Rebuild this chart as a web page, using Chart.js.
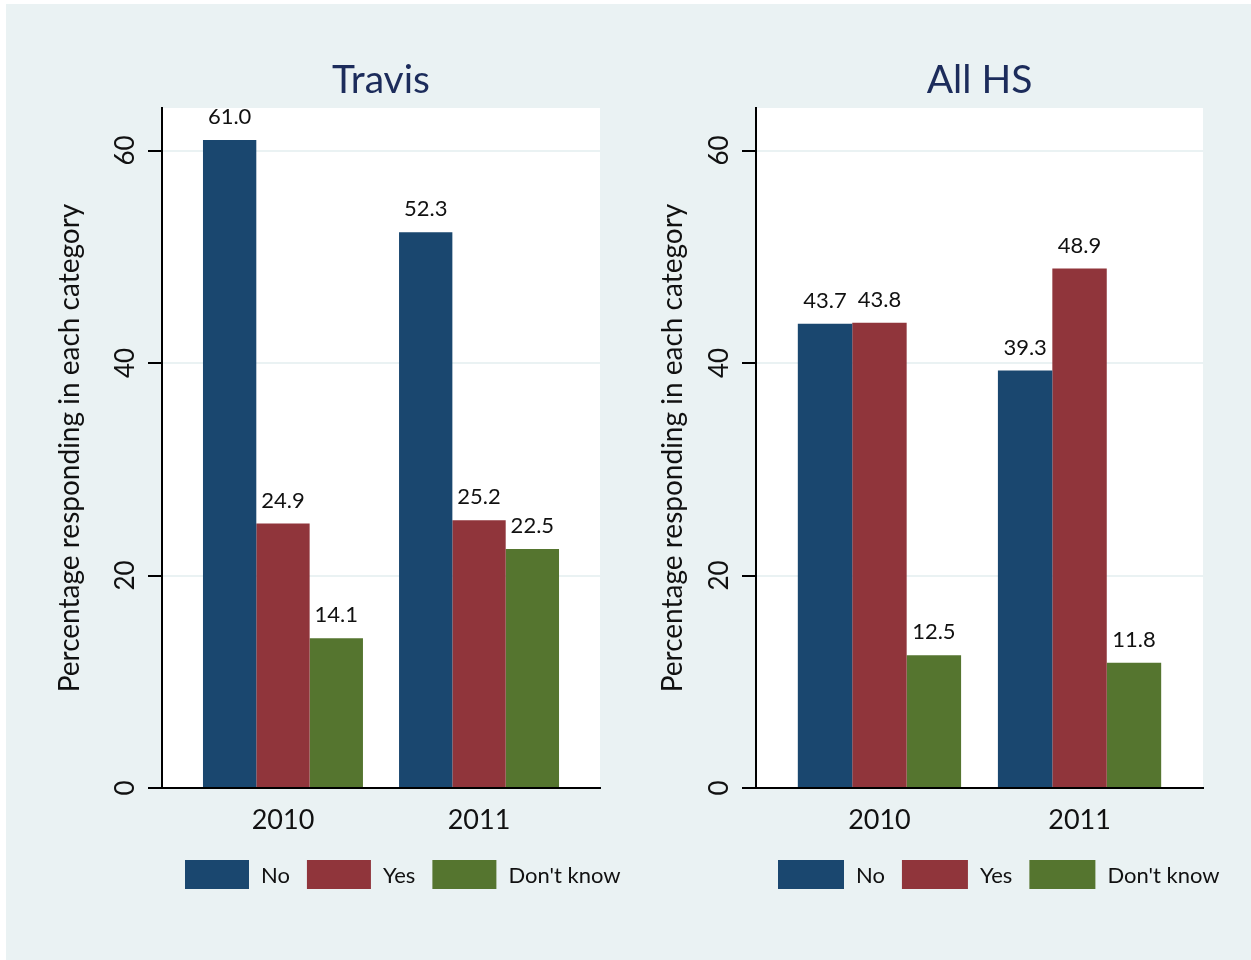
<!DOCTYPE html>
<html>
<head>
<meta charset="utf-8">
<title>Travis / All HS</title>
<script src="https://cdn.jsdelivr.net/npm/chart.js@4.4.1/dist/chart.umd.min.js"></script>
<style>
  html, body { margin: 0; padding: 0; background: #ffffff; }
  #frame { position: absolute; left: 6px; top: 4px; width: 1245px; height: 956px; background: #eaf2f3; }
  #frame canvas { position: absolute; top: 0; }
  #travis { left: 0; }
  #allhs { left: 620px; }
</style>
</head>
<body>
<div id="frame">
  <canvas id="travis" width="620" height="956"></canvas>
  <canvas id="allhs" width="625" height="956"></canvas>
</div>
<script>
// data
const years = ["2010", "2011"];
const seriesNames = ["No", "Yes", "Don't know"];
const seriesColors = ["#1a476f", "#90353b", "#55752f"];

const travisNo = [61.0, 52.3];
const travisYes = [24.9, 25.2];
const travisDontKnow = [14.1, 22.5];

const allHsNo = [43.7, 39.3];
const allHsYes = [43.8, 48.9];
const allHsDontKnow = [12.5, 11.8];

const yTicks = [0, 20, 40, 60];
const yTitle = "Percentage responding in each category";

Chart.defaults.font.family = "Lato, 'Open Sans', sans-serif";
Chart.defaults.color = "#111111";

// white plot region
const plotBackground = {
  id: "plotBackground",
  beforeDraw(chart) {
    const { ctx, chartArea } = chart;
    ctx.save();
    ctx.fillStyle = "#ffffff";
    ctx.fillRect(chartArea.left, chartArea.top, chartArea.right - chartArea.left, chartArea.bottom - chartArea.top);
    ctx.restore();
  },
};

// value above every bar
const barValues = {
  id: "barValues",
  afterDatasetsDraw(chart) {
    const ctx = chart.ctx;
    ctx.save();
    ctx.font = "22px Lato";
    ctx.fillStyle = "#111111";
    ctx.textAlign = "center";
    ctx.textBaseline = "middle";
    chart.data.datasets.forEach((ds, i) => {
      chart.getDatasetMeta(i).data.forEach((bar, j) => {
        ctx.fillText(ds.data[j].y.toFixed(1), bar.x, bar.y - 23);
      });
    });
    ctx.restore();
  },
};

// legend row under each panel (Stata style, wide swatches)
const panelLegend = {
  id: "panelLegend",
  afterDraw(chart, args, opts) {
    const ctx = chart.ctx;
    ctx.save();
    ctx.font = "22px Lato";
    ctx.textBaseline = "middle";
    let x = opts.x;
    chart.data.datasets.forEach((ds) => {
      ctx.fillStyle = ds.backgroundColor;
      ctx.fillRect(x, opts.y, opts.boxW, opts.boxH);
      x += opts.boxW + 12;
      ctx.fillStyle = "#111111";
      ctx.fillText(ds.label, x, opts.y + opts.boxH / 2 + 1);
      x += ctx.measureText(ds.label).width + 17;
    });
    ctx.restore();
  },
};

function makePanel(canvasId, title, values, cfg) {
  const datasets = seriesNames.map((name, s) => ({
    label: name,
    data: years.map((yr, i) => ({ x: i, y: values[s][i] })),
    backgroundColor: seriesColors[s],
    borderWidth: 0,
    categoryPercentage: 0.816,
    barPercentage: 1.0,
  }));

  return new Chart(document.getElementById(canvasId), {
    type: "bar",
    data: { datasets },
    plugins: [plotBackground, barValues, panelLegend],
    options: {
      responsive: false,
      animation: false,
      devicePixelRatio: 1,
      layout: { padding: { left: 0, right: cfg.padRight, top: 0, bottom: 122 } },
      scales: {
        x: {
          type: "linear",
          offset: false,
          min: -0.617,
          max: 1.617,
          z: 1,
          afterBuildTicks: (s) => { s.ticks = years.map((yr, i) => ({ value: i })); },
          afterFit: (s) => { s.height = 50; },
          grid: { display: false, drawTicks: false },
          border: { display: true, color: "#000000", width: 2 },
          ticks: {
            padding: 16,
            font: { size: 27 },
            color: "#111111",
            callback: (v, i) => years[i],
          },
        },
        y: {
          min: 0,
          max: 64,
          afterBuildTicks: (s) => { s.ticks = yTicks.map((v) => ({ value: v })); },
          afterFit: (s) => { s.width = cfg.axisWidth; },
          grid: { color: "#eaf2f3", lineWidth: 2, tickColor: "#000000", tickWidth: 2, tickLength: 14 },
          border: { display: true, color: "#000000", width: 2 },
          ticks: {
            minRotation: 90,
            maxRotation: 90,
            crossAlign: "center",
            padding: 7,
            font: { size: 26 },
            color: "#111111",
          },
          title: {
            display: true,
            text: yTitle,
            font: { size: 28 },
            color: "#111111",
            padding: { top: cfg.titlePad, bottom: 0 },
          },
        },
      },
      plugins: {
        legend: { display: false },
        tooltip: { enabled: false },
        title: {
          display: true,
          text: title,
          fullSize: false,
          color: "#1c2c5b",
          font: { size: 39, weight: "normal" },
          padding: { top: 52.6, bottom: 4.6 },
        },
        panelLegend: { x: cfg.legendX, y: 856, boxW: cfg.boxW, boxH: 29 },
      },
    },
  });
}

makePanel("travis", "Travis", [travisNo, travisYes, travisDontKnow],
  { padRight: 26, axisWidth: 156, titlePad: 47.6, legendX: 179, boxW: 64 });
makePanel("allhs", "All HS", [allHsNo, allHsYes, allHsDontKnow],
  { padRight: 48, axisWidth: 130, titlePad: 30.6, legendX: 152, boxW: 66 });
</script>
</body>
</html>
